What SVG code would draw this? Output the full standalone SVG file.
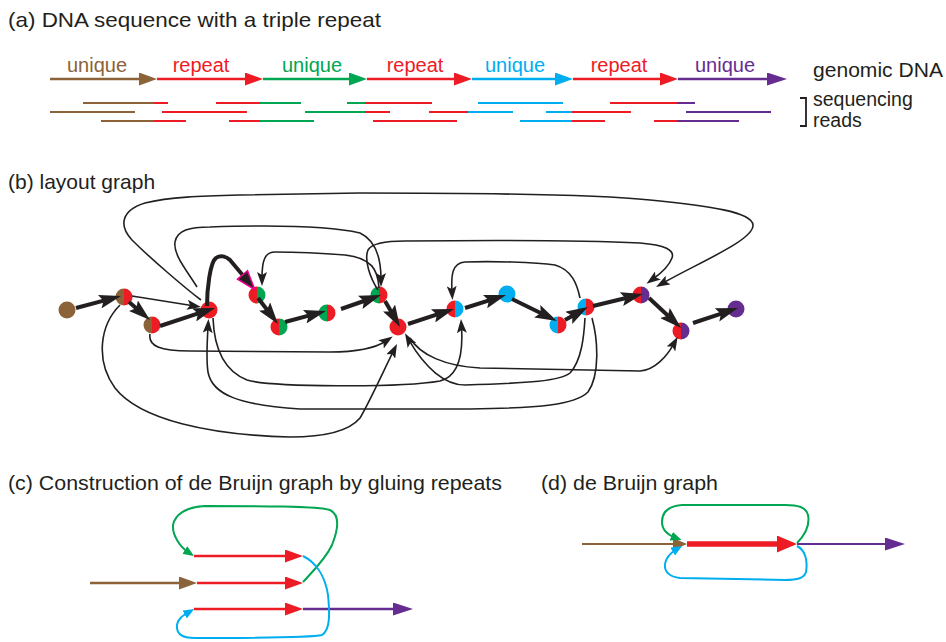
<svg xmlns="http://www.w3.org/2000/svg" width="946" height="642" viewBox="0 0 946 642">
<style>
.t{font-family:"Liberation Sans",Arial,Helvetica,sans-serif;font-size:21px;fill:#231F20}
.lab{font-size:20px;text-anchor:middle}
.br{stroke:#8C6239}.rd{stroke:#ED1C24}.gr{stroke:#00A651}.bl{stroke:#00AEEF}.pu{stroke:#662D91}
.fbr{fill:#8C6239}.frd{fill:#ED1C24}.fgr{fill:#00A651}.fbl{fill:#00AEEF}.fpu{fill:#662D91}
.main{fill:none;stroke-width:2.6}
.read{fill:none;stroke-width:2}
.th{fill:none;stroke:#231F20;stroke-width:4;marker-end:url(#ahk)}
.tn{fill:none;stroke:#231F20;stroke-width:1.6;marker-end:url(#ahs)}
.loop{fill:none;stroke-width:2}
</style>
<defs>
<marker id="ahk" viewBox="0 0 22 14" refX="10" refY="7" markerWidth="22" markerHeight="14" markerUnits="userSpaceOnUse" orient="auto"><path d="M0,0L22,7L0,14L4,7z" fill="#231F20"/></marker>
<marker id="ahp" viewBox="0 0 22 14" refX="10" refY="7" markerWidth="22" markerHeight="14" markerUnits="userSpaceOnUse" orient="auto" overflow="visible"><path d="M1,0.5L20,7L1,13.5z" fill="#231F20" stroke="#EC008C" stroke-width="1.6"/></marker>
<marker id="ahs" viewBox="0 0 14 10" refX="6" refY="5" markerWidth="14" markerHeight="10" markerUnits="userSpaceOnUse" orient="auto"><path d="M0,0L14,5L0,10L3,5z" fill="#231F20"/></marker>
<marker id="a-br" viewBox="0 0 18 13" refX="9" refY="6.5" markerWidth="18" markerHeight="13" markerUnits="userSpaceOnUse" orient="auto"><path d="M0,0L18,6.5L0,13z" fill="#8C6239"/></marker>
<marker id="a-rd" viewBox="0 0 18 13" refX="9" refY="6.5" markerWidth="18" markerHeight="13" markerUnits="userSpaceOnUse" orient="auto"><path d="M0,0L18,6.5L0,13z" fill="#ED1C24"/></marker>
<marker id="a-gr" viewBox="0 0 18 13" refX="9" refY="6.5" markerWidth="18" markerHeight="13" markerUnits="userSpaceOnUse" orient="auto"><path d="M0,0L18,6.5L0,13z" fill="#00A651"/></marker>
<marker id="a-bl" viewBox="0 0 18 13" refX="9" refY="6.5" markerWidth="18" markerHeight="13" markerUnits="userSpaceOnUse" orient="auto"><path d="M0,0L18,6.5L0,13z" fill="#00AEEF"/></marker>
<marker id="a-pu" viewBox="0 0 20 13" refX="11" refY="6.5" markerWidth="20" markerHeight="13" markerUnits="userSpaceOnUse" orient="auto"><path d="M0,0L20,6.5L0,13z" fill="#662D91"/></marker>
<marker id="a-brs" viewBox="0 0 14 12" refX="6" refY="6" markerWidth="14" markerHeight="12" markerUnits="userSpaceOnUse" orient="auto"><path d="M0,0L14,6L0,12z" fill="#8C6239"/></marker>
<marker id="a-rdb" viewBox="0 0 20 17" refX="9" refY="8.5" markerWidth="20" markerHeight="17" markerUnits="userSpaceOnUse" orient="auto"><path d="M0,0L20,8.5L0,17z" fill="#ED1C24"/></marker>
<marker id="s-gr" viewBox="0 0 11 9" refX="5" refY="4.5" markerWidth="11" markerHeight="9" markerUnits="userSpaceOnUse" orient="auto"><path d="M0,0L11,4.5L0,9z" fill="#00A651"/></marker>
<marker id="s-bl" viewBox="0 0 11 9" refX="5" refY="4.5" markerWidth="11" markerHeight="9" markerUnits="userSpaceOnUse" orient="auto"><path d="M0,0L11,4.5L0,9z" fill="#00AEEF"/></marker>
<path id="hl" d="M0,-8.5A8.5,8.5 0 0 0 0,8.5Z"/>
<path id="hr" d="M0,-8.5A8.5,8.5 0 0 1 0,8.5Z"/>
</defs>

<g id="titles" class="t">
<text x="8" y="27" textLength="373" lengthAdjust="spacingAndGlyphs">(a) DNA sequence with a triple repeat</text>
<text x="8" y="189">(b) layout graph</text>
<text x="8" y="490" textLength="494" lengthAdjust="spacingAndGlyphs">(c) Construction of de Bruijn graph by gluing repeats</text>
<text x="541" y="490" textLength="177" lengthAdjust="spacingAndGlyphs">(d) de Bruijn graph</text>
</g>

<!-- (a) genomic DNA -->
<g id="genome">
<path class="main br" d="M50,79H148" marker-end="url(#a-br)"/>
<path class="main rd" d="M157,79H254" marker-end="url(#a-rd)"/>
<path class="main gr" d="M263,79H358" marker-end="url(#a-gr)"/>
<path class="main rd" d="M367,79H463" marker-end="url(#a-rd)"/>
<path class="main bl" d="M472,79H564" marker-end="url(#a-bl)"/>
<path class="main rd" d="M573,79H669" marker-end="url(#a-rd)"/>
<path class="main pu" d="M678,79H778" marker-end="url(#a-pu)"/>
<g class="t lab">
<text x="97" y="72" class="fbr">unique</text>
<text x="201" y="72" class="frd">repeat</text>
<text x="312" y="72" class="fgr">unique</text>
<text x="415" y="72" class="frd">repeat</text>
<text x="515" y="72" class="fbl">unique</text>
<text x="619" y="72" class="frd">repeat</text>
<text x="725" y="72" class="fpu">unique</text>
</g>
<text class="t" x="813" y="77" textLength="130" lengthAdjust="spacingAndGlyphs">genomic DNA</text>
</g>

<g id="reads">
<path class="read br" d="M83,103H154M50,112H135M101,121H154"/>
<path class="read rd" d="M154,103H168M216,103H260M365,103H432M610,103H677M162,112H247M365,112H390M429,112H468M572,112H631M154,121H186M229,121H260M373,121H457M572,121H605M654,121H677"/>
<path class="read gr" d="M260,103H301M347,103H365M305,112H365M260,121H314"/>
<path class="read bl" d="M478,103H563M468,112H513M546,112H572M520,121H572"/>
<path class="read pu" d="M677,103H695M686,112H771M677,121H739"/>
<path d="M800,98H806V126H800" fill="none" stroke="#231F20" stroke-width="1.8"/>
<text class="t" x="813" y="106" style="font-size:19.5px">sequencing</text>
<text class="t" x="813" y="127" style="font-size:19.5px">reads</text>
</g>

<!-- (b) layout graph nodes -->
<g id="n1" transform="translate(67,310)"><circle r="8.5" class="fbr"/></g>
<g id="n2" transform="translate(124,297)"><use href="#hl" class="fbr"/><use href="#hr" class="frd"/></g>
<g id="n3" transform="translate(152,325)"><use href="#hl" class="fbr"/><use href="#hr" class="frd"/></g>
<g id="n4" transform="translate(209,310)"><circle r="8.5" class="frd"/></g>
<g id="n5" transform="translate(257,295)"><use href="#hl" class="frd"/><use href="#hr" class="fgr"/></g>
<g id="n6" transform="translate(279,327)"><use href="#hl" class="frd"/><use href="#hr" class="fgr"/></g>
<g id="n7" transform="translate(327,313)"><use href="#hl" class="fgr"/><use href="#hr" class="frd"/></g>
<g id="n8" transform="translate(379,295)"><use href="#hl" class="fgr"/><use href="#hr" class="frd"/></g>
<g id="n9" transform="translate(398,327)"><circle r="8.5" class="frd"/></g>
<g id="n10" transform="translate(455,309)"><use href="#hl" class="frd"/><use href="#hr" class="fbl"/></g>
<g id="n11" transform="translate(507,294)"><circle r="8.5" class="fbl"/></g>
<g id="n12" transform="translate(558,325)"><use href="#hl" class="fbl"/><use href="#hr" class="frd"/></g>
<g id="n13" transform="translate(586,307)"><use href="#hl" class="fbl"/><use href="#hr" class="frd"/></g>
<g id="n14" transform="translate(641,295)"><use href="#hl" class="frd"/><use href="#hr" class="fpu"/></g>
<g id="n15" transform="translate(681,331)"><use href="#hl" class="frd"/><use href="#hr" class="fpu"/></g>
<g id="n16" transform="translate(736,309)"><circle r="8.5" class="fpu"/></g>

<g id="connectors">
<path class="th" d="M76,308L109.4,299.1"/>
<path class="th" d="M129,302L140.9,312.2"/>
<path class="th" d="M160,326L203.6,311.7"/>
<path class="th" d="M207,306C207,290 210,262 216,258C220,255 226,256 230,260L248.3,281.8" style="marker-end:url(#ahp)"/>
<path class="th" d="M258,298L270.7,314.5"/>
<path class="th" d="M285,322L314.4,314.1"/>
<path class="th" d="M341,309L369.7,299"/>
<path class="th" d="M385,301L394,316.6"/>
<path class="th" d="M408,324L442.6,312.7"/>
<path class="th" d="M465,308L494.6,298.6"/>
<path class="th" d="M512,299L546.2,315.7"/>
<path class="th" d="M565,320L577.5,312.9"/>
<path class="th" d="M593,306L631.3,296.8"/>
<path class="th" d="M649,298L672.3,319.8"/>
<path class="th" d="M693,323L726.6,311.8"/>

<path class="tn" d="M132,296L193.1,305.7"/>
<path class="tn" d="M201,300C185,288 150,258 132,240C118,225 122,210 145,203C170,197 200,196 240,195L360,193C480,193 600,195 650,200C710,206 752,212 753,225C754,240 700,262 663,283"/>
<path class="tn" d="M197,287C188,272 173,255 175,242C177,230 190,227 210,227C270,225 330,226 360,233C375,240 381,258 381,279"/>
<path class="tn" d="M379,288C378,270 372,258 345,255C320,253 290,252 275,252C265,252 262,260 262,278"/>
<path class="tn" d="M378,290C370,278 364,260 368,250C372,243 385,241 405,241C500,240 600,241 640,243C665,245 675,250 672,258C669,266 660,274 653,279"/>
<path class="tn" d="M580,298C577,284 572,270 555,265C535,262 490,261 465,262C452,263 451,275 452,292"/>
<path class="tn" d="M150,334C148,346 160,351 190,351L330,352C360,352 377,347 386,341"/>
<path class="tn" d="M120,305C100,325 95,360 115,388C140,420 210,435 290,437C330,437 350,430 360,418C368,405 384,370 393.4,351.2"/>
<path class="tn" d="M213,318C214,345 222,370 247,380C270,387 400,388 440,381C460,376 463,350 461.5,327"/>
<path class="tn" d="M592,318C598,340 600,375 588,392C575,405 540,408 470,409L300,409C240,405 212,395 208,372C206,360 207,345 208,327"/>
<path class="tn" d="M585,318C584,335 582,360 570,373C560,381 530,383 465,385C445,385 425,368 409,340.2"/>
<path class="tn" d="M410,338C420,355 445,366 480,368L640,371C655,370 667,356 673.8,343.8"/>
</g>

<!-- (c) gluing repeats -->
<g id="panel-c">
<path class="main rd" d="M194,556H294" marker-end="url(#a-rd)"/>
<path class="main br" d="M90,583H188" marker-end="url(#a-br)"/>
<path class="main rd" d="M197,583H294" marker-end="url(#a-rd)"/>
<path class="main rd" d="M194,609H294" marker-end="url(#a-rd)"/>
<path class="main pu" d="M303,609H404" marker-end="url(#a-pu)"/>
<path class="loop gr" d="M303,582C312,572 325,560 332,545C338,530 340,515 330,510C318,506 260,506 205,506C185,507 175,515 173,525C172,535 180,547 189,552.8" marker-end="url(#s-gr)"/>
<path class="loop bl" d="M303,556C315,562 325,575 328,595C330,615 330,630 322,635C310,638 250,638 195,638C182,638 176,634 177,625C178,619 182,616 189,612" marker-end="url(#s-bl)"/>
</g>

<!-- (d) de Bruijn graph -->
<g id="panel-d">
<path class="br" d="M582,544H679" fill="none" stroke-width="1.8" marker-end="url(#a-brs)"/>
<path class="rd" d="M687,544H786" fill="none" stroke-width="5.5" marker-end="url(#a-rdb)"/>
<path class="pu" d="M797,544H896" fill="none" stroke-width="2" marker-end="url(#a-pu)"/>
<path class="loop gr" d="M797,543C805,535 810,525 808,515C806,507 798,505 785,505L682,505C668,506 662,512 662,522C662,530 668,535 676,538" marker-end="url(#s-gr)"/>
<path class="loop bl" d="M797,546C805,550 808,560 806,572C804,578 798,580 785,580L680,578C670,577 664,572 665,564C666,557 672,552 677,549" marker-end="url(#s-bl)"/>
</g>
</svg>
